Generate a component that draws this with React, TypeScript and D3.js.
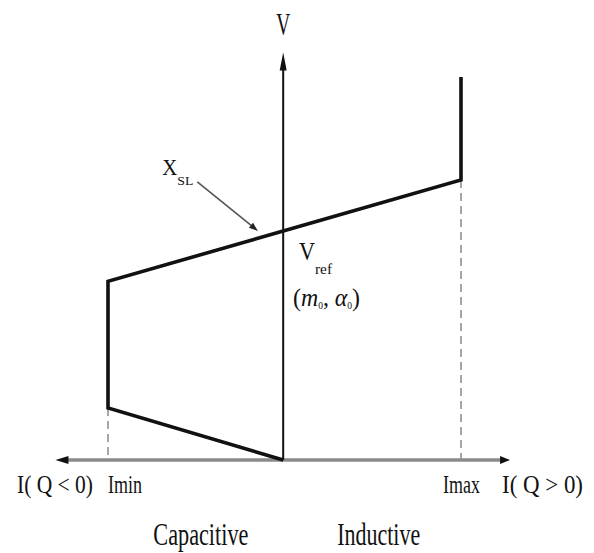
import React from "react";
import * as d3 from "d3";

// Static characteristic of the SVC: current (per unit of |Imin|) vs voltage (per unit of Vref)
const currentPts = [0, -1.0, -1.0, 0, 1.015, 1.015];
const voltagePts = [0, 0.227, 0.78, 1.0, 1.223, 1.672];

// Current limits marked on the horizontal axis
const limitCurrents = [-1.0, 1.015];
const limitVoltages = [0.227, 1.223];
const limitLabels = ["Imin", "Imax"];

// Axis extents (tips of the arrows)
const currentAxisExtent = [-1.3, 1.295];
const voltageAxisTop = 1.78;

// Region names under the axis
const regionLabels = ["Capacitive", "Inductive"];
const regionCenters = [-0.47, 0.545];

// Slope annotation: label anchor and arrow target (data units)
const slopeLabelAt = [-0.69, 1.245];
const slopeArrowTo = [-0.144, 1.0];

const W = 594;
const H = 553;
const FONT = "'Liberation Serif', 'Times New Roman', serif";

export default function App() {
  const x = d3.scaleLinear().domain([-1, 1.015]).range([108, 461]);
  const y = d3.scaleLinear().domain([0, 1]).range([460, 231]);

  const pts: [number, number][] = currentPts.map((c, i) => [c, voltagePts[i]]);
  const line = d3
    .line<[number, number]>()
    .x((d) => x(d[0]))
    .y((d) => y(d[1]));

  const x0 = x(0);
  const yAxis = y(0);
  const xl = x(currentAxisExtent[0]);
  const xr = x(currentAxisExtent[1]);
  const yt = y(voltageAxisTop);

  // slope annotation arrow
  const lx = x(slopeLabelAt[0]);
  const ly = y(slopeLabelAt[1]);
  const ax1 = lx + 35;
  const ay1 = ly + 7;
  const ax2 = x(slopeArrowTo[0]);
  const ay2 = y(slopeArrowTo[1]);
  const ang = Math.atan2(ay2 - ay1, ax2 - ax1);
  const ah = 9;
  const aw = 3.2;
  const headPts = [
    [ax2, ay2],
    [ax2 - ah * Math.cos(ang) + aw * Math.sin(ang), ay2 - ah * Math.sin(ang) - aw * Math.cos(ang)],
    [ax2 - ah * Math.cos(ang) - aw * Math.sin(ang), ay2 - ah * Math.sin(ang) + aw * Math.cos(ang)],
  ]
    .map((p) => p.join(","))
    .join(" ");

  return (
    <svg
      width={W}
      height={H}
      viewBox={`0 0 ${W} ${H}`}
      style={{ position: "absolute", left: 0, top: 0, background: "#fff" }}
      fontFamily={FONT}
    >
      {/* dashed drop lines at the current limits */}
      {limitCurrents.map((c, i) => (
        <line
          key={"d" + i}
          x1={x(c)}
          x2={x(c)}
          y1={y(limitVoltages[i])}
          y2={yAxis}
          stroke="#777"
          strokeWidth={1.3}
          strokeDasharray="8 5"
        />
      ))}

      {/* horizontal current axis with arrows both ways */}
      <line x1={xl + 10} x2={xr - 8} y1={yAxis} y2={yAxis} stroke="#8a8a8a" strokeWidth={3.5} />
      <polygon points={`${xl},${yAxis} ${xl + 13},${yAxis - 4} ${xl + 13},${yAxis + 4}`} fill="#111" />
      <polygon points={`${xr},${yAxis} ${xr - 10},${yAxis - 4} ${xr - 10},${yAxis + 4}`} fill="#111" />

      {/* vertical voltage axis */}
      <line x1={x0} x2={x0} y1={yAxis} y2={yt + 12} stroke="#111" strokeWidth={2} />
      <polygon points={`${x0},${yt} ${x0 - 3.5},${yt + 18} ${x0 + 3.5},${yt + 18}`} fill="#111" />

      {/* V-I characteristic */}
      <path d={line(pts) ?? ""} fill="none" stroke="#111" strokeWidth={3.6} strokeLinejoin="miter" />

      {/* slope annotation arrow */}
      <line x1={ax1} y1={ay1} x2={ax2 - 6 * Math.cos(ang)} y2={ay2 - 6 * Math.sin(ang)} stroke="#555" strokeWidth={1.6} />
      <polygon points={headPts} fill="#222" />

      {/* axis titles */}
      <text x={x0} y={35} fontSize={32} textAnchor="middle" textLength={14} lengthAdjust="spacingAndGlyphs" fill="#111">
        {"V"}
      </text>
      <text x={17} y={493} fontSize={25} textLength={76} lengthAdjust="spacingAndGlyphs" fill="#111">
        {"I( Q < 0)"}
      </text>
      <text x={502} y={493} fontSize={25} textLength={81} lengthAdjust="spacingAndGlyphs" fill="#111">
        {"I( Q > 0)"}
      </text>

      {/* limit labels */}
      <text x={x(limitCurrents[0])} y={493} fontSize={25} textLength={34} lengthAdjust="spacingAndGlyphs" fill="#111">
        {limitLabels[0]}
      </text>
      <text x={x(limitCurrents[1]) - 18} y={493} fontSize={25} textLength={37} lengthAdjust="spacingAndGlyphs" fill="#111">
        {limitLabels[1]}
      </text>

      {/* region labels */}
      {regionLabels.map((r, i) => (
        <text
          key={r}
          x={x(regionCenters[i])}
          y={545}
          fontSize={32}
          textAnchor="middle"
          textLength={i === 0 ? 95 : 83}
          lengthAdjust="spacingAndGlyphs"
          fill="#111"
        >
          {r}
        </text>
      ))}

      {/* slope label X_SL */}
      <text x={lx} y={ly} fontSize={23} textLength={15} lengthAdjust="spacingAndGlyphs" fill="#111">
        {"X"}
      </text>
      <text x={lx + 15} y={ly + 10} fontSize={12} textLength={16} lengthAdjust="spacingAndGlyphs" fill="#111">
        {"SL"}
      </text>

      {/* reference point label */}
      <text x={299} y={260} fontSize={25} textLength={16} lengthAdjust="spacingAndGlyphs" fill="#111">
        {"V"}
      </text>
      <text x={315} y={274} fontSize={14} textLength={17} lengthAdjust="spacingAndGlyphs" fill="#111">
        {"ref"}
      </text>
      <text x={293} y={306} fontSize={25} textLength={67} lengthAdjust="spacingAndGlyphs" fill="#111">
        <tspan>{"("}</tspan>
        <tspan fontStyle="italic">{"m"}</tspan>
        <tspan fontSize={10} dy={3}>{"0"}</tspan>
        <tspan dy={-3}>{", "}</tspan>
        <tspan fontStyle="italic">{"α"}</tspan>
        <tspan fontSize={10} dy={3}>{"0"}</tspan>
        <tspan dy={-3}>{")"}</tspan>
      </text>
    </svg>
  );
}
